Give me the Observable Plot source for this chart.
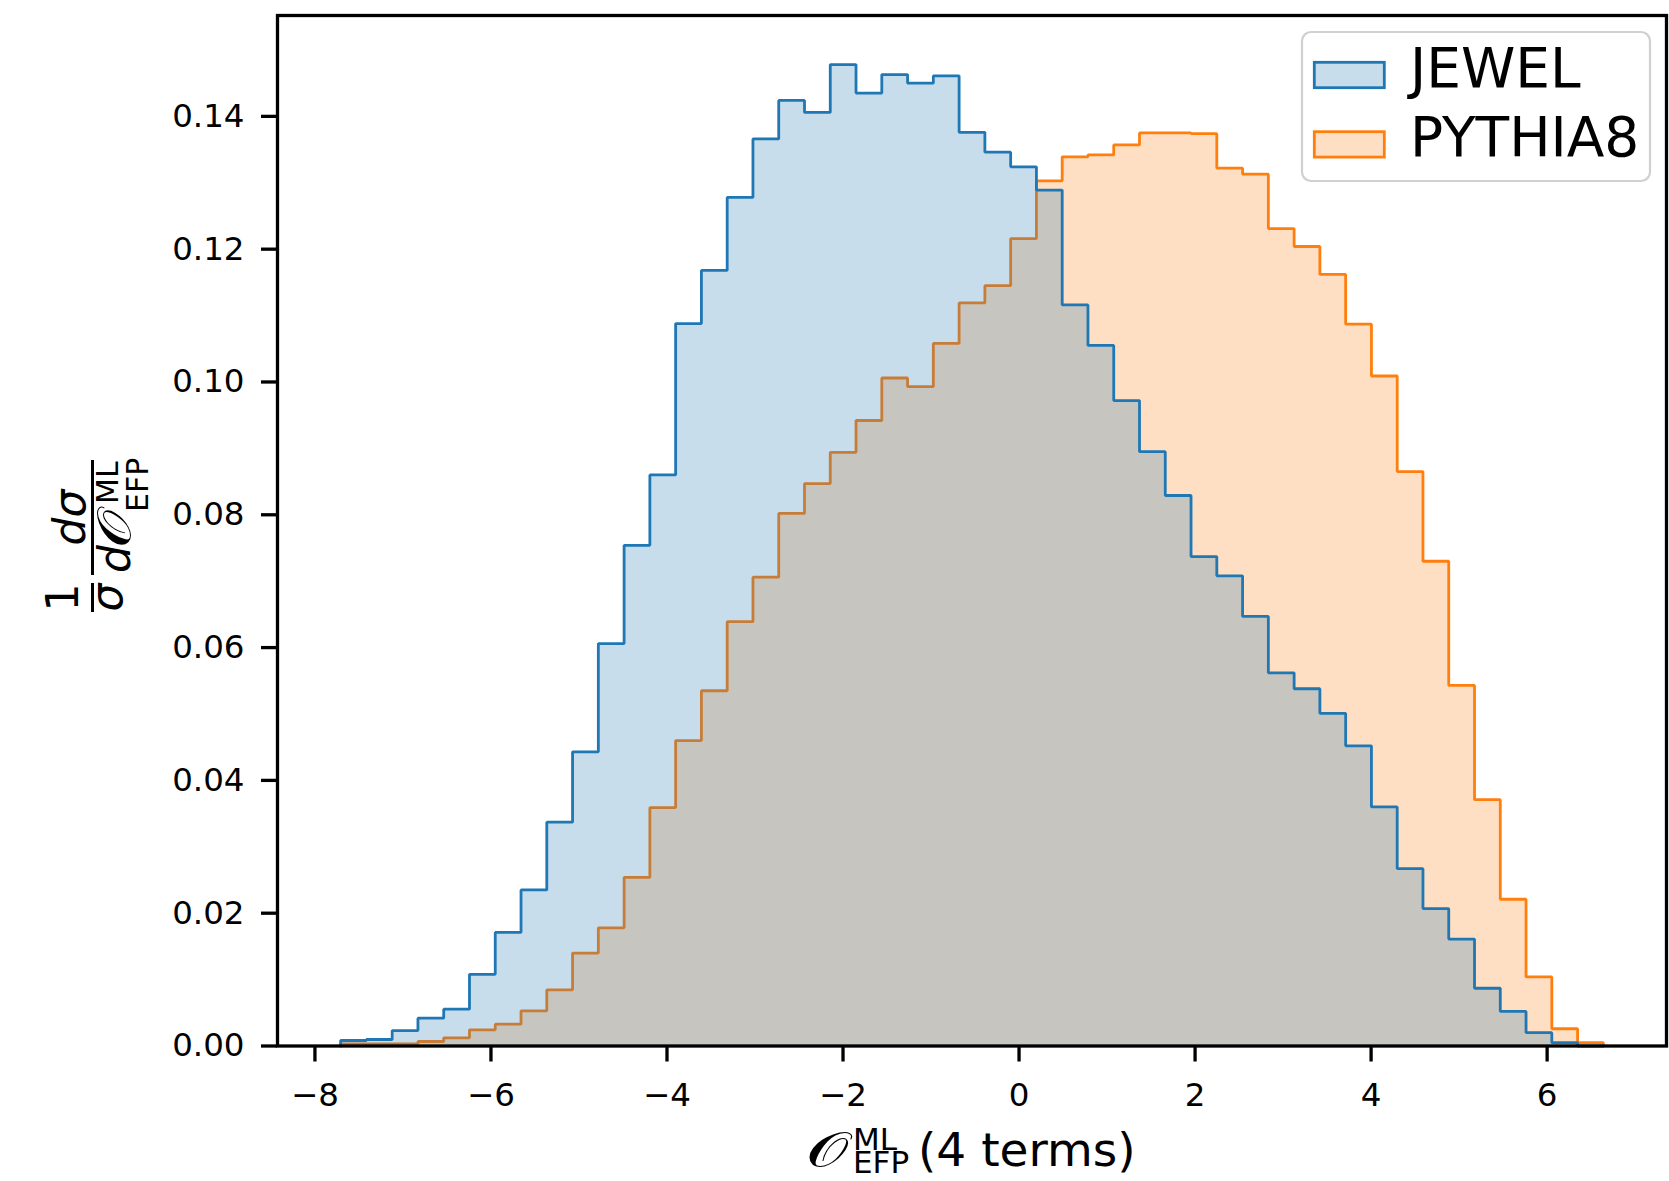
<!DOCTYPE html>
<html><head><meta charset="utf-8">
<script src="https://cdn.jsdelivr.net/npm/d3@7"></script>
<script src="https://cdn.jsdelivr.net/npm/@observablehq/plot@0.6"></script>
<style>
html,body{margin:0;padding:0;background:#fff;}
#chart{position:relative;width:1669px;height:1181px;}
</style></head><body><div id="chart"></div>
<script>
// ---- data ----
const seriesNames = ["JEWEL", "PYTHIA8"];
const seriesColors = ["#1f77b4", "#ff7f0e"];
const binLo = -7.708, binHi = 6.639;   // histogram range (49 equal bins)
const jewel = [0.00083,0.00098,0.00233,0.00419,0.00554,0.0108,0.0171,0.0235,0.0337,0.0443,
  0.0606,0.0754,0.0860,0.1088,0.1168,0.1278,0.1366,0.1424,0.1406,0.1478,
  0.1435,0.1463,0.1450,0.1461,0.1376,0.1346,0.1324,0.1289,0.1116,0.1055,
  0.0972,0.0895,0.0829,0.0737,0.0708,0.0647,0.0562,0.0538,0.0501,0.0452,
  0.0360,0.0267,0.0207,0.0161,0.0087,0.0052,0.0020,0.0005,0];
const pythia = [0.0003,0.0003,0.0003,0.00068,0.00123,0.00244,0.00329,0.0053,0.00846,0.0140,
  0.0178,0.0254,0.0359,0.0460,0.0535,0.0639,0.0706,0.0802,0.0847,0.0894,
  0.0942,0.1006,0.0993,0.1058,0.1119,0.1145,0.1216,0.1303,0.1339,0.1342,
  0.1357,0.1375,0.1375,0.1374,0.1322,0.1313,0.1231,0.1204,0.1162,0.1087,
  0.1009,0.0865,0.0730,0.0543,0.0371,0.0221,0.0104,0.0026,0.0005];
const xTicks = [-8,-6,-4,-2,0,2,4,6];
const yTicks = [0,0.02,0.04,0.06,0.08,0.10,0.12,0.14];

// ---- derived ----
const nBins = jewel.length;
const edges = d3.range(nBins + 1).map(i => binLo + (binHi - binLo) * i / nBins);
function outline(vals) {
  const pts = [{x: edges[0], y: 0}];
  vals.forEach((v, i) => { pts.push({x: edges[i], y: v}); pts.push({x: edges[i + 1], y: v}); });
  pts.push({x: edges[vals.length], y: 0});
  return pts;
}
const jwPts = outline(jewel), pyPts = outline(pythia);
const span = binHi - binLo;
const xDomain = [binLo - 0.05 * span, binHi + 0.05 * span];
const yDomain = [0, 1.05 * d3.max([...jewel, ...pythia])];

const W = 1669, H = 1181, mL = 277, mR = 3, mT = 15, mB = 135.5;
const lw = 2.8;

const plot = Plot.plot({
  width: W, height: H,
  marginLeft: mL, marginRight: mR, marginTop: mT, marginBottom: mB,
  style: {fontFamily: "DejaVu Sans", background: "white", color: "black"},
  x: {domain: xDomain},
  y: {domain: yDomain},
  marks: [
    Plot.area(pyPts, {x1: "x", y1: () => 0, y2: "y", fill: seriesColors[1], fillOpacity: 0.25}),
    Plot.line(pyPts, {x: "x", y: "y", stroke: seriesColors[1], strokeWidth: lw, strokeLinejoin: "miter"}),
    Plot.area(jwPts, {x1: "x", y1: () => 0, y2: "y", fill: seriesColors[0], fillOpacity: 0.25}),
    Plot.line(jwPts, {x: "x", y: "y", stroke: seriesColors[0], strokeWidth: lw, strokeLinejoin: "miter"}),
    Plot.frame({stroke: "black", strokeWidth: 3.3}),
    Plot.axisX({ticks: xTicks, tickSize: 16, tickPadding: 21, tickFormat: d3.format("d"),
      fontSize: 32.5, strokeWidth: 3.3, label: null}),
    Plot.axisY({ticks: yTicks, tickSize: 16, tickPadding: 17, tickFormat: d3.format(".2f"),
      fontSize: 32.5, strokeWidth: 3.3, label: null})
  ]
});
document.getElementById("chart").appendChild(plot);

const svg = d3.select(plot);
const F = "DejaVu Sans";
const CAL = "𝒪";

// ---- legend ----
const lg = svg.append("g").attr("text-anchor", "start");
lg.append("rect").attr("x", 1302).attr("y", 32).attr("width", 348).attr("height", 149)
  .attr("rx", 9).attr("fill", "white").attr("fill-opacity", 0.8)
  .attr("stroke", "#d0d0d0").attr("stroke-width", 2.2);
seriesNames.forEach((name, i) => {
  const y0 = 62.3 + i * 69.4;
  lg.append("rect").attr("x", 1314.3).attr("y", y0).attr("width", 70).attr("height", 25.4)
    .attr("fill", seriesColors[i]).attr("fill-opacity", 0.25)
    .attr("stroke", seriesColors[i]).attr("stroke-width", lw);
  lg.append("text").attr("x", 1410).attr("y", y0 + 24.5).attr("font-family", F)
    .attr("font-size", 55).attr("fill", "black").text(name);
});

// ---- x label ----
const xl = svg.append("g").attr("font-family", F).attr("fill", "black").attr("text-anchor", "start");
xl.append("text").attr("x", 806).attr("y", 1166).attr("font-size", 48)
  .attr("textLength", 42).attr("lengthAdjust", "spacingAndGlyphs").text(CAL);
const xs = xl.append("text").attr("font-size", 31);
xs.append("tspan").attr("x", 853).attr("y", 1150).text("ML");
xs.append("tspan").attr("x", 853).attr("y", 1173).text("EFP");
xl.append("text").attr("x", 918).attr("y", 1166).attr("font-size", 47).text("(4 terms)");

// ---- y label (rotated) ----
const yl = svg.append("g").attr("transform", "translate(0,612) rotate(-90)")
  .attr("font-family", F).attr("fill", "black").attr("text-anchor", "start");
yl.append("text").attr("x", 14.5).attr("y", 78).attr("font-size", 44).attr("text-anchor", "middle").text("1");
yl.append("line").attr("x1", 0).attr("x2", 29).attr("y1", 92.5).attr("y2", 92.5).attr("stroke", "black").attr("stroke-width", 3);
yl.append("text").attr("x", 14.5).attr("y", 122).attr("font-size", 44).attr("text-anchor", "middle").attr("font-style", "italic").text("σ");
yl.append("line").attr("x1", 37).attr("x2", 152).attr("y1", 92.5).attr("y2", 92.5).attr("stroke", "black").attr("stroke-width", 3);
yl.append("text").attr("x", 94.5).attr("y", 85).attr("font-size", 44).attr("text-anchor", "middle").attr("font-style", "italic").text("dσ");
yl.append("text").attr("x", 39).attr("y", 130).attr("font-size", 44).attr("font-style", "italic").text("d");
yl.append("text").attr("x", 64).attr("y", 130).attr("font-size", 46)
  .attr("textLength", 38).attr("lengthAdjust", "spacingAndGlyphs").text(CAL);
const ys = yl.append("text").attr("font-size", 30);
ys.append("tspan").attr("x", 108).attr("y", 118).text("ML");
ys.append("tspan").attr("x", 100).attr("y", 148).text("EFP");
</script></body></html>
